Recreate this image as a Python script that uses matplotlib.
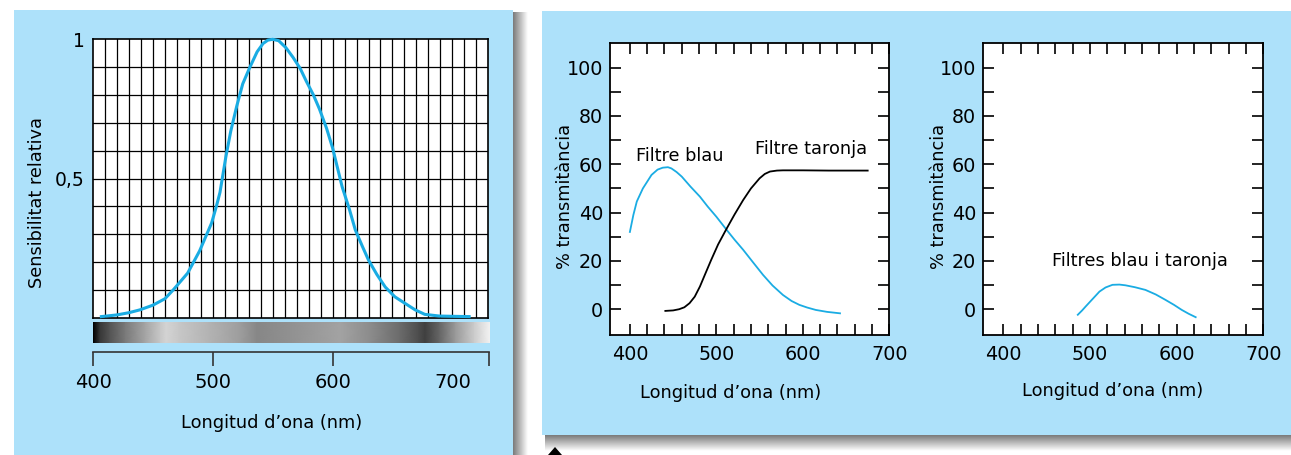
import numpy as np
import matplotlib.pyplot as plt
from matplotlib.patches import Rectangle, Polygon

W, H = 1291, 455

# relative sensitivity of the eye (left chart)
sens_nm = [407, 420, 430, 439, 450, 460, 467, 474, 479, 484, 489, 494, 499, 503, 506, 511,
           515, 520, 525, 531, 537, 542, 546, 550, 555, 561, 567, 573, 578, 584, 589, 595,
           600, 604, 608, 614, 619, 625, 630, 637, 644, 652, 661, 669, 677, 689, 700, 714]
sens_val = [0.004, 0.010, 0.018, 0.028, 0.045, 0.068, 0.10, 0.135, 0.16, 0.20, 0.24, 0.29,
            0.34, 0.40, 0.45, 0.58, 0.67, 0.76, 0.84, 0.90, 0.955, 0.985, 0.997, 1.0, 0.995,
            0.97, 0.935, 0.895, 0.85, 0.80, 0.75, 0.68, 0.61, 0.54, 0.47, 0.39, 0.315, 0.255,
            0.207, 0.155, 0.11, 0.075, 0.05, 0.028, 0.012, 0.006, 0.005, 0.004]

# grey level of the spectrum strip
spec_nm = [400, 401, 406, 414, 427, 443, 456, 461, 472, 497, 522, 537, 564, 606, 631,
           656, 672, 677, 689, 702, 718, 731]
spec_gray = [0.0, 0.03, 0.22, 0.33, 0.48, 0.64, 0.78, 0.83, 0.78, 0.70, 0.62, 0.53, 0.57,
             0.64, 0.55, 0.42, 0.30, 0.25, 0.40, 0.60, 0.80, 0.95]

# transmittance of the blue filter
blau_nm = [400, 404, 408, 415, 425, 432, 438, 444, 448, 454, 460, 470, 481, 490, 500, 512,
           521, 531, 542, 554, 565, 577, 587, 596, 605, 615, 628, 643]
blau_val = [32, 39, 44.6, 50, 55.6, 57.8, 58.6, 58.8, 58.3, 56.8, 54.9, 50.8, 46.6, 42.5,
            38.3, 32.8, 28.8, 24.6, 19.6, 14.2, 9.8, 5.9, 3.4, 1.8, 0.7, -0.3, -1.1, -1.7]

# transmittance of the orange filter
taronja_nm = [441, 450, 457, 463, 469, 475, 481, 487, 494, 502, 511, 521, 531, 540, 550,
              556, 562, 570, 577, 600, 630, 675]
taronja_val = [-0.7, -0.5, 0.0, 0.8, 2.5, 5.2, 9.4, 14.5, 20.4, 26.8, 32.8, 39.2, 45.2,
               50.0, 54.2, 56.0, 57.0, 57.4, 57.5, 57.5, 57.4, 57.4]

# both filters together
ambdos_nm = [486, 491, 495, 503, 511, 518, 526, 534, 541, 552, 564, 576, 587, 597, 606,
             614, 622]
ambdos_val = [-2.3, -0.5, 1.1, 4.2, 7.3, 9.0, 10.1, 10.2, 9.9, 9.1, 8.0, 6.1, 3.9, 1.8,
              -0.3, -1.9, -3.3]

sens_ticks = [0.5, 1.0]
sens_labels = ['0,5', '1']
bracket_ticks = [400, 500, 600, 700, 730]
bracket_labels = ['400', '500', '600', '700', '']

BG = '#ade1fa'
CYAN = '#1aace3'
FS = 12.8

plt.rcParams['font.family'] = 'DejaVu Sans'


def box(l, t, r, b):
    return [l / W, 1 - b / H, (r - l) / W, (b - t) / H]


fig = plt.figure(figsize=(W / 100, H / 100), dpi=100)
fig.patch.set_facecolor('white')

# panels
for l, t, r, b in [(14, 10, 513, 455), (542, 11, 1291, 435)]:
    fig.patches.append(Rectangle((l / W, 1 - b / H), (r - l) / W, (b - t) / H,
                                 transform=fig.transFigure, facecolor=BG,
                                 edgecolor='none', zorder=-5))

# shadows
grad = np.linspace(0.48, 1.0, 50)
sh1 = fig.add_axes(box(513, 12, 528, 455))
sh1.imshow(grad[None, :], cmap='gray', vmin=0, vmax=1, aspect='auto')
sh1.axis('off')
sh2 = fig.add_axes(box(545, 435, 1291, 451))
sh2.imshow(grad[:, None], cmap='gray', vmin=0, vmax=1, aspect='auto')
sh2.axis('off')
fig.patches.append(Polygon([(548 / W, 0), (562 / W, 0), (555 / W, 1 - 447 / H)],
                           closed=True, transform=fig.transFigure,
                           facecolor='black', edgecolor='none', zorder=5))

# ---- left chart
ax1 = fig.add_axes(box(93, 39.3, 488.3, 317.7))
ax1.set_xlim(400, 730)
ax1.set_ylim(0, 1)
for x in np.arange(410, 730, 10):
    ax1.axvline(x, color='black', lw=0.9, zorder=1)
for y in np.arange(0.1, 1.0, 0.1):
    ax1.axhline(y, color='black', lw=0.9, zorder=1)
ax1.plot(sens_nm, sens_val, color=CYAN, lw=2.2, zorder=3, clip_on=False)
ax1.set_xticks([])
ax1.set_yticks(sens_ticks)
ax1.set_yticklabels(sens_labels)
ax1.tick_params(axis='y', length=0, pad=6, labelsize=13.5)
for s in ax1.spines.values():
    s.set_linewidth(1.2)

axs = fig.add_axes(box(93, 322, 490, 343))
axs.pcolormesh(spec_nm, [0, 1], np.vstack([spec_gray, spec_gray]),
               shading='gouraud', cmap='gray', vmin=0, vmax=1)
axs.set_xlim(400, 731)
axs.axis('off')

axb = fig.add_axes(box(93, 330, 489.3, 352))
axb.set_xlim(400, 730)
axb.patch.set_visible(False)
for k in ['top', 'left', 'right']:
    axb.spines[k].set_visible(False)
axb.spines['bottom'].set_linewidth(1.2)
axb.spines['bottom'].set_color('#333333')
axb.set_yticks([])
axb.set_xticks(bracket_ticks)
axb.set_xticklabels(bracket_labels)
axb.tick_params(axis='x', direction='out', length=10, width=1.2, color='#333333',
                pad=5, labelsize=14)
axb.xaxis.get_major_ticks()[3].tick1line.set_visible(False)

fig.text(272 / W, 1 - 423 / H, 'Longitud d\u2019ona (nm)', ha='center', va='center',
         fontsize=FS)
fig.text(36.7 / W, 1 - 202.5 / H, 'Sensibilitat relativa', ha='center', va='center',
         rotation=90, fontsize=FS)


# ---- filter charts
def filter_axes(l, r):
    ax = fig.add_axes(box(l, 43.3, r, 335.3))
    ax.set_xlim(377, 700)
    ax.set_ylim(-10.8, 110.1)
    xt = np.arange(400, 701, 20)
    ax.set_xticks(xt)
    ax.set_xticklabels([str(v) if v % 100 == 0 else '' for v in xt])
    yt = np.arange(0, 101, 10)
    ax.set_yticks(yt)
    ax.set_yticklabels([str(v) if v % 20 == 0 else '' for v in yt])
    ax.tick_params(direction='in', length=8, width=1.2, top=True, right=True,
                   labelsize=13.8)
    ax.tick_params(axis='x', pad=7)
    ax.tick_params(axis='y', pad=5)
    for s in ax.spines.values():
        s.set_linewidth(1.3)
    return ax


ax2 = filter_axes(610, 889.3)
ax2.plot(blau_nm, blau_val, color=CYAN, lw=1.3)
ax2.plot(taronja_nm, taronja_val, color='black', lw=1.3)
ax2.text(458, 61.5, 'Filtre blau', ha='center', va='baseline', fontsize=FS)
ax2.text(610, 64.3, 'Filtre taronja', ha='center', va='baseline', fontsize=FS)

ax3 = filter_axes(983.3, 1263.3)
ax3.plot(ambdos_nm, ambdos_val, color=CYAN, lw=1.3)
ax3.text(558, 17.9, 'Filtres blau i taronja', ha='center', va='baseline', fontsize=FS)

for xc, yc, xl, yl in [(731, 392.7, 565.5, 196.5), (1113, 390.7, 939, 196.7)]:
    fig.text(xc / W, 1 - yc / H, 'Longitud d\u2019ona (nm)', ha='center', va='center',
             fontsize=FS)
    fig.text(xl / W, 1 - yl / H, '% transmit\u00e0ncia', ha='center', va='center',
             rotation=90, fontsize=FS)

fig.savefig('out.png', dpi=100, facecolor='white')
